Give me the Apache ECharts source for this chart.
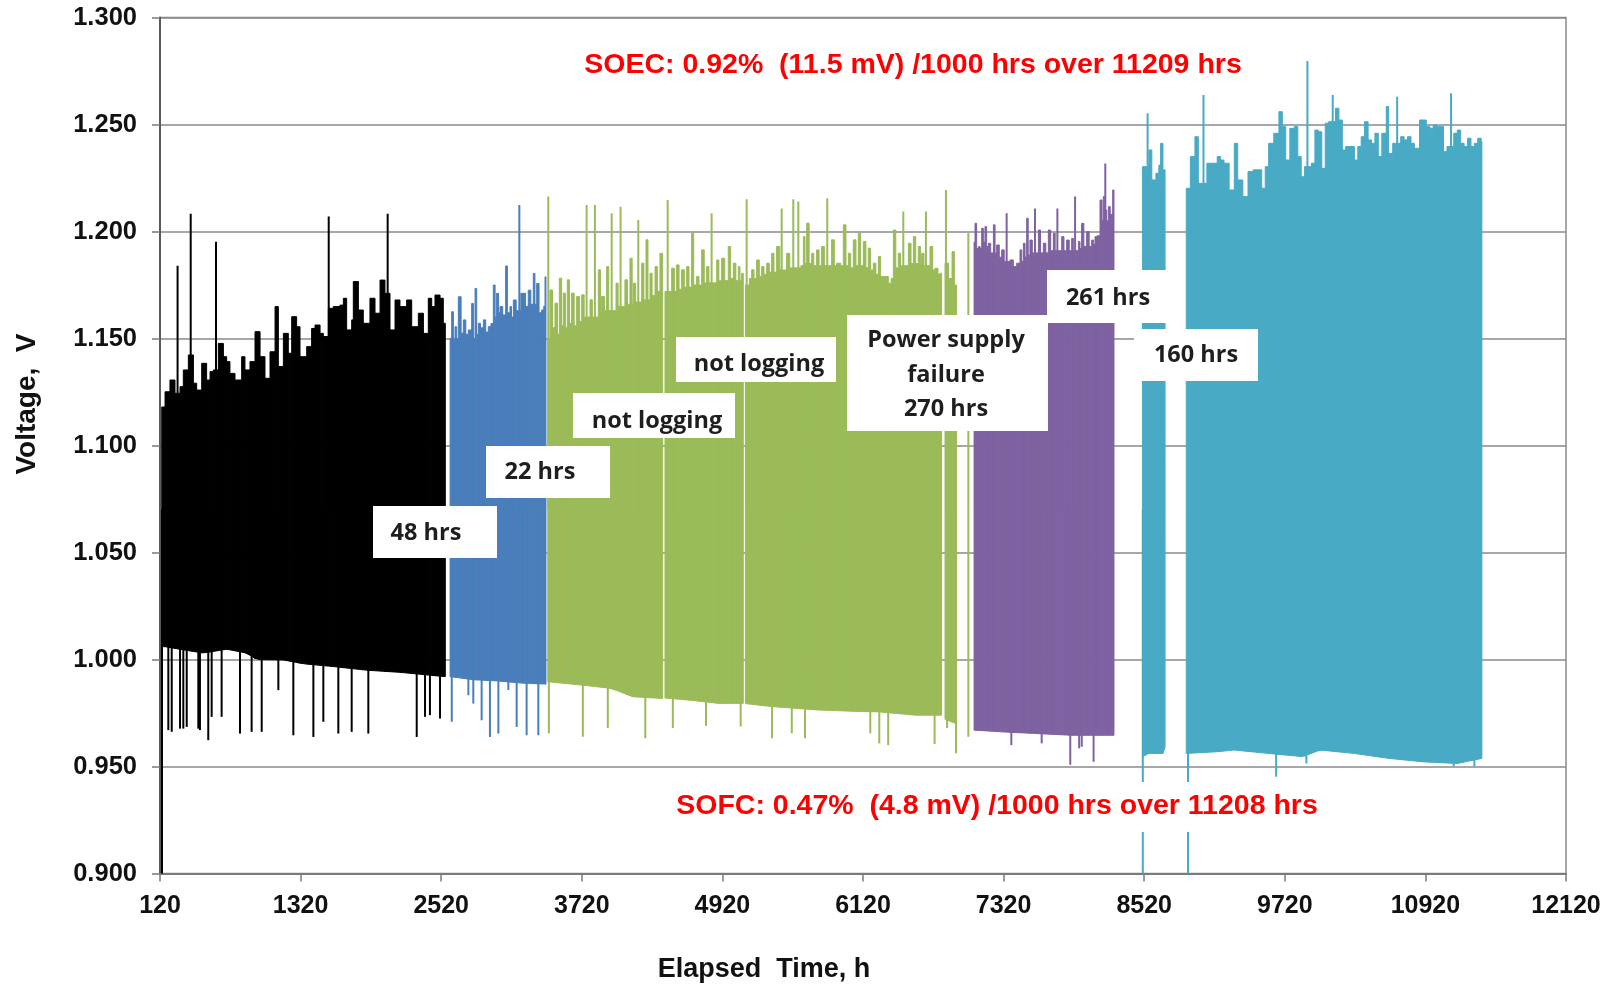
<!DOCTYPE html>
<html><head><meta charset="utf-8">
<script src="https://cdn.jsdelivr.net/npm/echarts@6/dist/echarts.min.js"></script>
<style>html,body{margin:0;padding:0;background:#fff}#main{width:1619px;height:985px}</style>
</head><body><div id="main"></div>
<script>
// ---------------- data (hours, volts) ----------------
const xTicks = [120, 1320, 2520, 3720, 4920, 6120, 7320, 8520, 9720, 10920, 12120];
const yMin = 0.9, yMax = 1.3, yStep = 0.05;

// Upper envelope of each logging block: [hour, voltage]; null closes a block (gap follows)
const blackTop = [[135,1.118],[163,1.1251],[205,1.1306],[248,1.1244],[291,1.1275],[319,1.1353],[362,1.1423],[405,1.1291],[433,1.1259],[476,1.1384],[518,1.1306],[547,1.1345],[575,1.1353],[618,1.1477],[661,1.1415],[689,1.1392],[717,1.1337],[760,1.1306],[817,1.1415],[845,1.1353],[888,1.1392],[931,1.1532],[974,1.1415],[1016,1.1314],[1059,1.1438],[1102,1.1649],[1130,1.1369],[1173,1.1524],[1215,1.1431],[1244,1.1602],[1286,1.1555],[1315,1.1415],[1372,1.1462],[1414,1.1547],[1443,1.1563],[1486,1.1524],[1514,1.1509],[1557,1.1641],[1599,1.1649],[1656,1.1656],[1685,1.1688],[1713,1.154],[1756,1.1587],[1770,1.1766],[1813,1.1633],[1855,1.1571],[1912,1.1688],[1955,1.1618],[1998,1.1773],[2040,1.1711],[2083,1.154],[2126,1.168],[2168,1.1649],[2225,1.168],[2268,1.1555],[2325,1.1618],[2368,1.1524],[2410,1.1688],[2439,1.1649],[2467,1.1703],[2510,1.1688],[2538,1.1571],[2555,null]];
const blackBot = [[135,1.006],[163,1.006],[319,1.0045],[490,1.003],[689,1.0048],[860,1.003],[945,1.000],[1173,0.9998],[1343,0.998],[1599,0.9967],[1884,0.995],[2168,0.994],[2453,0.9925],[2555,0.992]];
const blackUp = [[270,1.184],[382,1.2083],[598,1.1952],[1560,1.207],[2063,1.2083]];
const blackDn = [[137,0.900],[191,0.967],[220,0.9662],[291,0.9677],[319,0.9677],[348,0.9685],[447,0.9677],[461,0.967],[532,0.9623],[561,0.9732],[646,0.9732],[803,0.9654],[902,0.9662],[988,0.9662],[1130,0.9857],[1258,0.9646],[1429,0.9638],[1514,0.9709],[1642,0.9654],[1756,0.9662],[1898,0.9654],[2311,0.9638],[2382,0.9732],[2424,0.974],[2510,0.9724]];

const blueTop = [[2596,1.150],[2609,1.1625],[2624,1.150],[2638,1.1555],[2652,1.150],[2666,1.1695],[2690,1.1525],[2709,1.1587],[2730,1.152],[2752,1.154],[2780,1.1664],[2795,1.150],[2809,1.1734],[2823,1.152],[2837,1.1571],[2855,1.155],[2880,1.1587],[2900,1.153],[2922,1.1555],[2945,1.157],[2965,1.175],[2980,1.160],[2993,1.1711],[3010,1.162],[3022,1.1649],[3045,1.161],[3070,1.1839],[3085,1.162],[3107,1.1649],[3120,1.160],[3136,1.168],[3160,1.163],[3200,1.1711],[3221,1.1711],[3240,1.165],[3263,1.1726],[3285,1.166],[3306,1.1804],[3320,1.166],[3335,1.1757],[3355,1.162],[3377,1.1633],[3395,1.165],[3406,1.1788],[3414,null]];
const blueBot = [[2596,0.992],[2800,0.9905],[3000,0.990],[3200,0.989],[3414,0.9885]];
const blueUp = [[3187,1.2124]];
const blueDn = [[2610,0.9709],[2752,0.9833],[2794,0.9794],[2865,0.9716],[2936,0.9638],[3008,0.9654],[3093,0.9857],[3164,0.9685],[3249,0.9646],[3349,0.9646]];

const greenTop = [[3430,1.150],[3448,1.1727],[3470,1.155],[3491,1.1665],[3512,1.152],[3528,1.1782],[3548,1.156],[3562,1.1712],[3580,1.155],[3596,1.1774],[3615,1.157],[3633,1.1712],[3655,1.156],[3676,1.1696],[3700,1.158],[3719,1.1704],[3740,1.160],[3790,1.1681],[3810,1.160],[3861,1.1821],[3880,1.162],[3889,1.1696],[3915,1.163],[3932,1.1836],[3950,1.163],[4012,1.1758],[4030,1.165],[4088,1.1774],[4110,1.166],[4131,1.1875],[4150,1.166],[4160,1.1758],[4180,1.167],[4231,1.1852],[4250,1.168],[4268,1.1961],[4285,1.168],[4302,1.1805],[4320,1.170],[4345,1.1836],[4365,1.172],[4387,1.1898],[4410,null],
  [4430,1.172],[4487,1.1828],[4510,1.172],[4529,1.1844],[4550,1.173],[4572,1.1821],[4595,1.174],[4615,1.1836],[4635,1.174],[4657,1.1992],[4675,1.175],[4700,1.179],[4720,1.175],[4743,1.1914],[4765,1.176],[4786,1.1836],[4805,1.176],[4850,1.176],[4871,1.1867],[4890,1.177],[4914,1.1875],[4940,1.177],[4970,1.193],[4990,1.178],[5013,1.1852],[5035,1.177],[5056,1.1836],[5070,1.177],[5084,1.1805],[5098,null],
  [5116,1.175],[5150,1.178],[5170,1.1821],[5190,1.178],[5212,1.1867],[5235,1.179],[5255,1.1836],[5275,1.180],[5298,1.1852],[5320,1.181],[5340,1.1898],[5360,1.181],[5383,1.193],[5410,1.182],[5468,1.1898],[5495,1.183],[5590,1.184],[5611,1.1976],[5625,1.185],[5639,1.2039],[5660,1.185],[5682,1.1898],[5700,1.184],[5724,1.1914],[5745,1.184],[5767,1.193],[5790,1.184],[5852,1.1961],[5875,1.184],[5895,1.1852],[5930,1.184],[5952,1.2031],[5975,1.184],[5995,1.1898],[6015,1.183],[6037,1.1961],[6060,1.184],[6080,1.1992],[6100,1.184],[6123,1.1953],[6145,1.183],[6165,1.1922],[6185,1.182],[6208,1.1852],[6230,1.180],[6251,1.1883],[6270,1.179],[6293,1.179],[6336,1.1758],[6360,1.178],[6379,1.2007],[6400,1.183],[6421,1.1898],[6440,1.184],[6507,1.1945],[6530,1.185],[6550,1.1976],[6570,1.185],[6592,1.193],[6610,1.185],[6621,1.1898],[6640,1.184],[6692,1.193],[6715,1.182],[6734,1.1828],[6760,1.180],[6777,1.1805],[6791,null],
  [6820,1.1852],[6850,1.178],[6880,1.1906],[6900,1.175],[6919,null]];
const greenBot = [[3430,0.9896],[3729,0.988],[3973,0.9865],[4155,0.9826],[4410,0.9818],[4430,0.982],[4643,0.981],[4887,0.9795],[5098,0.9795],[5344,0.978],[5740,0.9764],[6045,0.9758],[6259,0.9755],[6563,0.974],[6791,0.974],[6820,0.972],[6919,0.970]];
const greenUp = [[3434,1.2163],[3761,1.2124],[3832,1.2124],[3975,1.2085],[4051,1.2116],[4202,1.2054],[4453,1.2147],[4828,1.2085],[5127,1.2151],[5426,1.2108],[5525,1.2151],[5568,1.214],[5815,1.2155],[6464,1.2093],[6657,1.2093],[6828,1.2194],[7019,1.1992]];
const greenDn = [[3439,0.9655],[3729,0.9639],[3942,0.968],[4262,0.9632],[4497,0.968],[4780,0.969],[5076,0.9687],[5344,0.9632],[5512,0.9655],[5625,0.9632],[6182,0.9655],[6259,0.9608],[6335,0.960],[6731,0.9605],[6838,0.968],[6914,0.9562],[7019,0.9639]];

const purpleTop = [[7068,1.195],[7076,1.2038],[7090,1.192],[7104,1.1929],[7120,1.192],[7133,1.2015],[7147,1.195],[7161,1.2023],[7175,1.193],[7190,1.1945],[7210,1.190],[7233,1.2031],[7247,1.190],[7261,1.1937],[7283,1.188],[7304,1.1914],[7325,1.186],[7360,1.186],[7375,1.1867],[7403,1.1836],[7432,1.1852],[7460,1.1914],[7475,1.186],[7489,1.1945],[7503,1.188],[7517,1.2062],[7530,1.189],[7545,1.196],[7565,1.190],[7600,1.190],[7617,1.2007],[7635,1.190],[7659,1.1945],[7680,1.190],[7702,1.2007],[7722,1.191],[7745,1.1992],[7760,1.191],[7800,1.191],[7816,1.1976],[7835,1.191],[7858,1.196],[7880,1.191],[7901,1.1968],[7915,1.191],[7945,1.191],[7958,1.1953],[7972,1.192],[7986,1.2038],[8005,1.193],[8029,1.200],[8050,1.193],[8072,1.196],[8086,1.194],[8100,1.1976],[8120,1.198],[8143,1.2147],[8160,1.205],[8171,1.2163],[8180,1.210],[8200,1.205],[8214,1.2116],[8230,1.208],[8251,1.2194],[8262,null]];
const purpleBot = [[7068,0.967],[7300,0.9662],[7600,0.9654],[7900,0.9646],[8262,0.9646]];
const purpleUp = [[7346,1.2085],[7588,1.2108],[7779,1.2108],[7930,1.2163],[8188,1.2318]];
const purpleDn = [[7386,0.960],[7645,0.9608],[7889,0.9508],[7965,0.9585],[7987,0.9592],[8088,0.9522]];

const cyanTop = [[8505,1.2303],[8560,1.2381],[8585,1.2241],[8620,1.2272],[8645,1.231],[8660,1.2412],[8680,1.2288],[8698,null],
  [8879,1.2202],[8914,1.235],[8953,1.2443],[8982,1.2225],[9055,1.2319],[9099,1.2319],[9143,1.235],[9172,1.2334],[9201,1.2319],[9245,1.2194],[9289,1.2412],[9318,1.2241],[9362,1.2163],[9406,1.228],[9450,1.2288],[9479,1.2288],[9523,1.2202],[9553,1.2303],[9582,1.2412],[9626,1.2459],[9670,1.256],[9699,1.249],[9728,1.2334],[9763,1.2482],[9801,1.249],[9831,1.235],[9860,1.2256],[9889,1.2303],[9948,1.2319],[9977,1.2474],[10006,1.2466],[10036,1.2295],[10065,1.2506],[10094,1.2513],[10153,1.2576],[10182,1.2521],[10211,1.2381],[10240,1.2397],[10284,1.2397],[10314,1.2334],[10343,1.2397],[10372,1.2443],[10401,1.2513],[10431,1.2428],[10460,1.2412],[10489,1.2459],[10518,1.235],[10548,1.2459],[10586,1.2584],[10606,1.2365],[10641,1.2412],[10709,1.2443],[10738,1.2428],[10767,1.2443],[10797,1.2412],[10826,1.2389],[10870,1.2521],[10899,1.2521],[10928,1.249],[10958,1.2483],[10987,1.2498],[11016,1.249],[11045,1.249],[11075,1.2373],[11104,1.2397],[11162,1.2459],[11192,1.2474],[11221,1.2412],[11250,1.2397],[11280,1.2436],[11309,1.2397],[11338,1.2412],[11367,1.2436],[11396,1.242],[11402,null]];
const cyanBot = [[8505,0.9546],[8540,0.9561],[8680,0.9561],[8698,0.9592],[8879,0.9561],[9143,0.9569],[9289,0.9577],[9582,0.9561],[9875,0.9546],[10021,0.9577],[10314,0.9561],[10606,0.9538],[10899,0.9522],[11192,0.9514],[11402,0.9538]];
const cyanUp = [[8549,1.2552],[9026,1.2638],[9913,1.2797],[10129,1.2638],[10679,1.263],[11139,1.2646]];
const cyanDn = [[8508,0.900],[8894,0.900],[9646,0.9452],[9904,0.9514],[11162,0.950],[11338,0.950]];

const soecText = 'SOEC: 0.92%  (11.5 mV) /1000 hrs over 11209 hrs';
const sofcText = 'SOFC: 0.47%  (4.8 mV) /1000 hrs over 11208 hrs';
const notes = ['48 hrs', '22 hrs', 'not logging', 'not logging', 'Power supply\nfailure\n270 hrs', '261 hrs', '160 hrs'];

// ---------------- drawing ----------------
const COLORS = {black:'#000000', blue:'#4a7ebb', green:'#9bbb59', purple:'#7f62a1', cyan:'#48aac5'};
const SPIKE_ANCHOR = 1.07;

function bottomAt(bot, t) {
  if (t <= bot[0][0]) return bot[0][1];
  for (let i = 1; i < bot.length; i++) {
    if (t <= bot[i][0]) {
      const a = bot[i - 1], b = bot[i];
      return a[1] + (t - a[0]) / (b[0] - a[0]) * (b[1] - a[1]);
    }
  }
  return bot[bot.length - 1][1];
}
function bandSeries(top, bot, color) {
  const data = [];
  for (let i = 0; i < top.length - 1; i++) {
    if (top[i][1] != null) data.push([top[i][0], top[i + 1][0], top[i][1]]);
  }
  return {
    type: 'custom', coordinateSystem: 'cartesian2d', silent: true, z: 3,
    encode: {x: [0, 1], y: 2}, data,
    renderItem(params, api) {
      const t0 = api.value(0), t1 = api.value(1), v = api.value(2);
      const p = [api.coord([t0, v]), api.coord([t1, v]), api.coord([t1, bottomAt(bot, t1)]), api.coord([t0, bottomAt(bot, t0)])];
      return {type: 'polygon', shape: {points: p}, style: {fill: color, stroke: color, lineWidth: 1}};
    }
  };
}
function spikeSeries(list, color) {
  return {
    type: 'custom', coordinateSystem: 'cartesian2d', silent: true, z: 3,
    encode: {x: 0, y: 1}, data: list,
    renderItem(params, api) {
      const a = api.coord([api.value(0), api.value(1)]);
      const b = api.coord([api.value(0), SPIKE_ANCHOR]);
      return {type: 'line', shape: {x1: a[0], y1: a[1], x2: b[0], y2: b[1]}, style: {stroke: color, lineWidth: 2}};
    }
  };
}

const series = [];
[[blackTop, blackBot, blackUp, blackDn, COLORS.black],
 [blueTop, blueBot, blueUp, blueDn, COLORS.blue],
 [greenTop, greenBot, greenUp, greenDn, COLORS.green],
 [purpleTop, purpleBot, purpleUp, purpleDn, COLORS.purple],
 [cyanTop, cyanBot, cyanUp, cyanDn, COLORS.cyan]].forEach(([top, bot, up, dn, c]) => {
  series.push(bandSeries(top, bot, c), spikeSeries(up, c), spikeSeries(dn, c));
});

const BOXFONT = 'bold 23.5px "Open Sans", sans-serif';
function box(x, y, w, h, tx, ty, text, lh) {
  return {
    type: 'group', z: 100, children: [
      {type: 'rect', shape: {x, y, width: w, height: h}, style: {fill: '#ffffff'}, z: 100},
      {type: 'text', x: tx, y: ty, z: 101, style: {text, font: BOXFONT, fill: '#1e1e1e', textAlign: 'center', textVerticalAlign: 'middle', align: 'center', verticalAlign: 'middle', lineHeight: lh || 34}}
    ]
  };
}
const AXFONT = 'bold 27px "Liberation Sans", Arial, sans-serif';
const REDFONT = 'bold 28.5px "Liberation Sans", Arial, sans-serif';

const option = {
  animation: false,
  backgroundColor: '#ffffff',
  grid: {left: 160, right: 53, top: 17.5, bottom: 111.5, show: true, borderColor: '#8a8a8a', borderWidth: 1.5, backgroundColor: 'transparent'},
  xAxis: {
    type: 'value', min: xTicks[0], max: xTicks[xTicks.length - 1],
    axisLine: {lineStyle: {color: '#7a7a7a', width: 2}},
    axisTick: {show: true, customValues: xTicks, length: 8, lineStyle: {color: '#7a7a7a', width: 1.5}},
    axisLabel: {customValues: xTicks, margin: 20, color: '#111', fontFamily: '"Liberation Sans", Arial, sans-serif', fontWeight: 'bold', fontSize: 25, formatter: v => String(Math.round(v))},
    splitLine: {show: false}
  },
  yAxis: {
    type: 'value', min: yMin, max: yMax, interval: yStep,
    axisLine: {show: true, lineStyle: {color: '#5a5a5a', width: 2}},
    axisTick: {show: true, length: 8, lineStyle: {color: '#7a7a7a', width: 1.5}},
    axisLabel: {margin: 23, color: '#111', fontFamily: '"Liberation Sans", Arial, sans-serif', fontWeight: 'bold', fontSize: 25.5, formatter: v => v.toFixed(3)},
    splitLine: {show: true, lineStyle: {color: '#8a8a8a', width: 1.5}}
  },
  series,
  graphic: [
    {type: 'text', z: 100, x: 913, y: 65, style: {text: soecText, font: REDFONT, fill: '#ff0000', textAlign: 'center', textVerticalAlign: 'middle', align: 'center', verticalAlign: 'middle'}},
    {type: 'rect', z: 99, shape: {x: 664, y: 782, width: 668, height: 50}, style: {fill: '#ffffff'}},
    {type: 'text', z: 100, x: 997, y: 806, style: {text: sofcText, font: REDFONT, fill: '#ff0000', textAlign: 'center', textVerticalAlign: 'middle', align: 'center', verticalAlign: 'middle'}},
    box(373, 506, 124, 52, 426, 533, notes[0]),
    box(486, 446, 124, 52, 540, 472, notes[1]),
    box(573, 393, 162, 45, 657, 421, notes[2]),
    box(676, 337, 160, 45, 759, 364, notes[3]),
    box(847, 315, 201, 116, 946, 375, notes[4], 34.5),
    box(1047, 270, 121, 53, 1108, 298, notes[5]),
    box(1134, 329, 124, 52, 1196, 355, notes[6]),
    {type: 'text', z: 100, x: 764, y: 970, style: {text: 'Elapsed  Time, h', font: AXFONT, fill: '#111', textAlign: 'center', textVerticalAlign: 'middle', align: 'center', verticalAlign: 'middle'}},
    {type: 'text', z: 100, x: 27, y: 404, rotation: Math.PI / 2, style: {text: 'Voltage,  V', font: 'bold 28px "Liberation Sans", Arial, sans-serif', fill: '#111', textAlign: 'center', textVerticalAlign: 'middle', align: 'center', verticalAlign: 'middle'}}
  ]
};
const chart = echarts.init(document.getElementById('main'));
chart.setOption(option);
</script>
</body></html>
